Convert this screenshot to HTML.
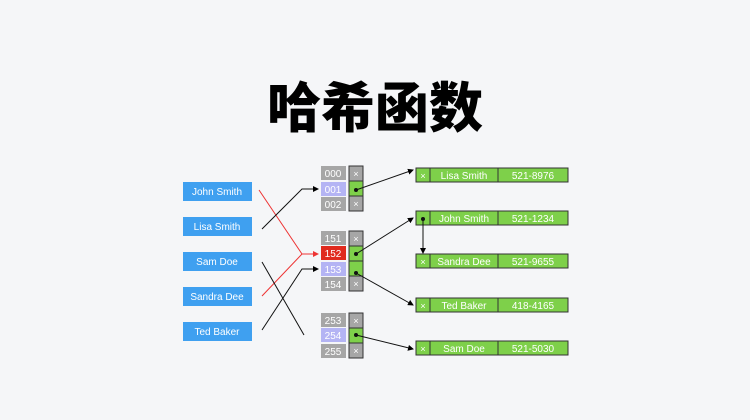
<!DOCTYPE html>
<html><head><meta charset="utf-8"><style>
body{margin:0;width:750px;height:420px;background:#f5f6f8;overflow:hidden;position:relative;font-family:"Liberation Sans","Noto Sans CJK SC",sans-serif}
.t{position:absolute;left:0;width:750px;top:72px;text-align:center;font-size:54px;font-weight:900;color:#000;font-family:"Noto Sans CJK SC",sans-serif;line-height:64px}
</style></head><body>
<div class="t">哈希函数</div>
<svg width="750" height="420" style="position:absolute;left:0;top:0" font-family="Liberation Sans, sans-serif" font-size="10">
<defs><marker id="a" markerWidth="6" markerHeight="6" refX="5" refY="3" orient="auto"><path d="M0,0L6,3L0,6z" fill="#000"/></marker>
<marker id="r" markerWidth="6" markerHeight="6" refX="5" refY="3" orient="auto"><path d="M0,0L6,3L0,6z" fill="#e33"/></marker></defs>
<g fill="#3fa0f0">
<rect x="183" y="182" width="69" height="19"/><rect x="183" y="217" width="69" height="19"/><rect x="183" y="252" width="69" height="19"/><rect x="183" y="287" width="69" height="19"/><rect x="183" y="322" width="69" height="19"/></g>
<g fill="#fff" text-anchor="middle"><text x="217" y="195">John Smith</text><text x="217" y="230">Lisa Smith</text><text x="217" y="265">Sam Doe</text><text x="217" y="300">Sandra Dee</text><text x="217" y="335">Ted Baker</text></g>
<g font-size="10" text-anchor="middle" fill="#fff">
<rect x="321" y="166" width="25" height="14" fill="#a6a6a6"/><text x="333" y="177">000</text>
<rect x="321" y="182" width="25" height="14" fill="#b4b4f4"/><text x="333" y="193">001</text>
<rect x="321" y="197" width="25" height="14" fill="#a6a6a6"/><text x="333" y="208">002</text>
<rect x="321" y="231" width="25" height="14" fill="#a6a6a6"/><text x="333" y="242">151</text>
<rect x="321" y="246" width="25" height="14" fill="#e02a1e"/><text x="333" y="257">152</text>
<rect x="321" y="262" width="25" height="14" fill="#b4b4f4"/><text x="333" y="273">153</text>
<rect x="321" y="277" width="25" height="14" fill="#a6a6a6"/><text x="333" y="288">154</text>
<rect x="321" y="313" width="25" height="14" fill="#a6a6a6"/><text x="333" y="324">253</text>
<rect x="321" y="328" width="25" height="14" fill="#b4b4f4"/><text x="333" y="339">254</text>
<rect x="321" y="344" width="25" height="14" fill="#a6a6a6"/><text x="333" y="355">255</text>
</g>
<g stroke="#333" stroke-width="1">
<rect x="349" y="166" width="14" height="15" fill="#a6a6a6"/><rect x="349" y="181" width="14" height="15" fill="#7ed04a"/><rect x="349" y="196" width="14" height="15" fill="#a6a6a6"/>
<rect x="349" y="231" width="14" height="15" fill="#a6a6a6"/><rect x="349" y="246" width="14" height="15" fill="#7ed04a"/><rect x="349" y="261" width="14" height="15" fill="#7ed04a"/><rect x="349" y="276" width="14" height="15" fill="#a6a6a6"/>
<rect x="349" y="313" width="14" height="15" fill="#a6a6a6"/><rect x="349" y="328" width="14" height="15" fill="#7ed04a"/><rect x="349" y="343" width="14" height="15" fill="#a6a6a6"/>
</g>
<g fill="#fff" text-anchor="middle" font-size="9"><text x="356" y="177">×</text><text x="356" y="207">×</text><text x="356" y="242">×</text><text x="356" y="287">×</text><text x="356" y="324">×</text><text x="356" y="354">×</text></g>
<g stroke="#333" fill="#7ed04a">
<rect x="416" y="168" width="14" height="14"/><rect x="430" y="168" width="68" height="14"/><rect x="498" y="168" width="70" height="14"/>
<rect x="416" y="211" width="14" height="14"/><rect x="430" y="211" width="68" height="14"/><rect x="498" y="211" width="70" height="14"/>
<rect x="416" y="254" width="14" height="14"/><rect x="430" y="254" width="68" height="14"/><rect x="498" y="254" width="70" height="14"/>
<rect x="416" y="298" width="14" height="14"/><rect x="430" y="298" width="68" height="14"/><rect x="498" y="298" width="70" height="14"/>
<rect x="416" y="341" width="14" height="14"/><rect x="430" y="341" width="68" height="14"/><rect x="498" y="341" width="70" height="14"/>
</g>
<g fill="#fff" text-anchor="middle">
<text x="423" y="179" font-size="9">×</text><text x="464" y="179">Lisa Smith</text><text x="533" y="179">521-8976</text>
<text x="464" y="222">John Smith</text><text x="533" y="222">521-1234</text>
<text x="423" y="265" font-size="9">×</text><text x="464" y="265">Sandra Dee</text><text x="533" y="265">521-9655</text>
<text x="423" y="309" font-size="9">×</text><text x="464" y="309">Ted Baker</text><text x="533" y="309">418-4165</text>
<text x="423" y="352" font-size="9">×</text><text x="464" y="352">Sam Doe</text><text x="533" y="352">521-5030</text>
</g>
<g fill="none" stroke-width="1">
<path d="M259,190L302,254L318,254" stroke="#e33" marker-end="url(#r)"/>
<path d="M262,296L302,254" stroke="#e33"/>
<g stroke="#111">
<path d="M262,229L302,189L318,189" marker-end="url(#a)"/>
<path d="M262,262L304,335"/>
<path d="M262,330L302,269L318,269" marker-end="url(#a)"/>
<path d="M356,190L413,170" marker-end="url(#a)"/>
<path d="M356,254L413,218" marker-end="url(#a)"/>
<path d="M356,273L413,305" marker-end="url(#a)"/>
<path d="M356,335L413,349" marker-end="url(#a)"/>
<path d="M423,219L423,253" marker-end="url(#a)"/>
</g></g>
<g fill="#111"><circle cx="356" cy="190" r="2"/><circle cx="356" cy="254" r="2"/><circle cx="356" cy="273" r="2"/><circle cx="356" cy="335" r="2"/><circle cx="423" cy="219" r="2"/></g>
</svg>
</body></html>
